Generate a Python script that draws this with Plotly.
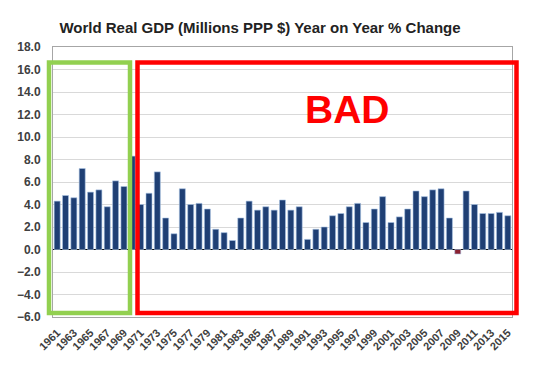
import plotly.graph_objects as go

years = list(range(1961, 2016))
growth = [4.3, 4.8, 4.6, 7.2, 5.1, 5.3, 3.8, 6.1, 5.6, 8.3,
          4.0, 5.0, 6.9, 2.8, 1.4, 5.4, 4.0, 4.1, 3.6, 1.8,
          1.5, 0.8, 2.8, 4.3, 3.5, 3.8, 3.5, 4.4, 3.5, 3.8,
          0.9, 1.8, 2.0, 3.0, 3.2, 3.8, 4.1, 2.4, 3.6, 4.7,
          2.4, 2.9, 3.6, 5.2, 4.7, 5.3, 5.4, 2.8, -0.4, 5.2,
          4.0, 3.2, 3.2, 3.3, 3.0]
tick_years = list(range(1961, 2016, 2))
y_ticks = [-6, -4, -2, 0, 2, 4, 6, 8, 10, 12, 14, 16, 18]

title_text = "World Real GDP (Millions PPP $) Year on Year % Change"
bad_label = "BAD"

colors = ["#8B2131" if v < 0 else "#1F3F74" for v in growth]

fig = go.Figure(go.Bar(
    x=years, y=growth,
    marker=dict(color=colors, line=dict(color="#A9C4E4", width=0.6)),
))

W, H = 553, 366
L, R, T, B = 53, 41, 47, 49
pw, ph = W - L - R, H - T - B

def px(x):
    return (x - L) / pw

def py(y):
    return (H - B - y) / ph

fig.add_shape(type="rect", xref="paper", yref="paper",
              x0=px(49), x1=px(130), y0=py(313), y1=py(62.5),
              line=dict(color="#92D050", width=4.5), layer="above")
fig.add_shape(type="rect", xref="paper", yref="paper",
              x0=px(137.5), x1=px(516.5), y0=py(313), y1=py(62.5),
              line=dict(color="#FF0000", width=4.5), layer="above")

fig.add_annotation(text=bad_label, xref="paper", yref="paper",
                   x=px(347.5), y=py(109), xanchor="center", yanchor="middle",
                   showarrow=False,
                   font=dict(family="Liberation Sans", size=39, color="#FF0000", weight="bold"))

fig.update_layout(
    width=W, height=H,
    margin=dict(l=L, r=R, t=T, b=B),
    paper_bgcolor="white", plot_bgcolor="white",
    showlegend=False,
    bargap=0.28,
    title=dict(text=title_text, xref="container", yref="container",
               x=260 / W, xanchor="center", y=1 - 28 / H, yanchor="middle",
               font=dict(family="Liberation Sans", size=15, color="#222222", weight="bold")),
    font=dict(family="Liberation Sans"),
)

fig.update_xaxes(
    range=[1960.5, 2015.5],
    tickmode="array", tickvals=tick_years, ticktext=[str(y) for y in tick_years],
    tickangle=-45,
    tickfont=dict(size=11, color="#404040", weight="bold"),
    showgrid=False, showline=True, linecolor="#A6A6A6", linewidth=1, mirror=True,
    ticks="", automargin=False, ticklabelstandoff=4,
)
fig.update_yaxes(
    range=[-6, 18],
    tickmode="array", tickvals=y_ticks, tickformat=".1f",
    tickfont=dict(size=12, color="#404040", weight="bold"),
    showgrid=True, gridcolor="#D9D9D9", gridwidth=1,
    zeroline=True, zerolinecolor="#000000", zerolinewidth=1,
    showline=True, linecolor="#A6A6A6", linewidth=1, mirror=True,
    ticks="", automargin=False, ticklabelstandoff=9,
)

fig.write_html("out.html", config={"displayModeBar": False},
               post_script="document.body.style.margin='0';")
